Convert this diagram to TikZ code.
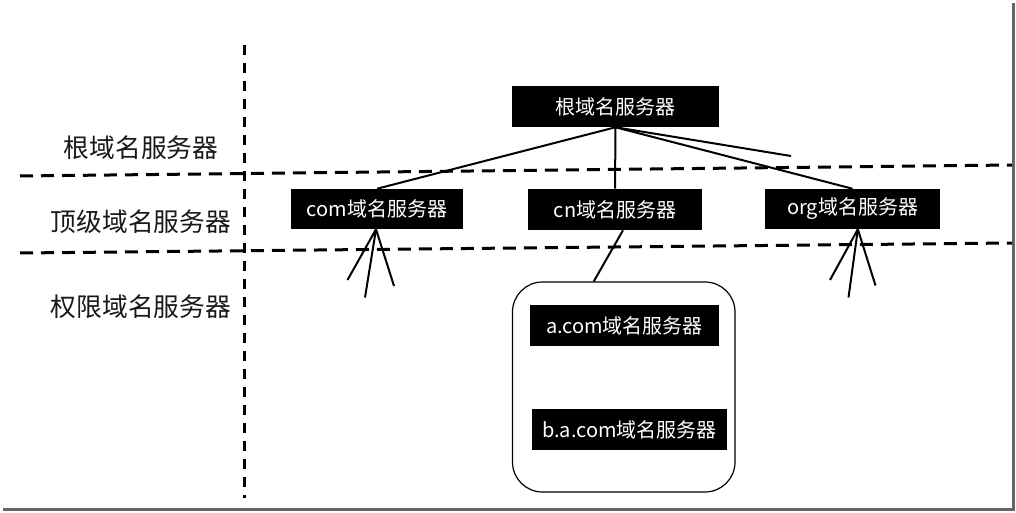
\documentclass[tikz,border=0pt]{standalone}
\usepackage{fontspec}
\setmainfont{Noto Sans CJK SC}
\begin{document}
\begin{tikzpicture}[x=0.75pt,y=-0.75pt,
  srvbox/.style={fill=black,text=white,inner sep=0pt,font=\fontsize{15}{18}\selectfont},
  tierlabel/.style={inner sep=0pt,text=black!90,font=\fontsize{19.3}{22}\selectfont},
  divider/.style={line width=2.25pt,dash pattern=on 9.75pt off 6pt},
  vdivider/.style={line width=2.25pt,dash pattern=on 7.5pt off 6pt},
  link/.style={line width=1.5pt},
  frameshadow/.style={line width=2.25pt,draw=black!60}
]
\useasboundingbox (0,0) rectangle (1016,513);
\fill[white] (0,0) rectangle (1016,513);
% screenshot frame shadow
\coordinate (fr1) at (1013.5,3);
\coordinate (fr2) at (1013.5,509.5);
\coordinate (fr3) at (3,509.5);
\draw[frameshadow] (fr1) -- (fr2) -- (fr3);

% dividers
\coordinate (h1a) at (20,176);
\coordinate (h1b) at (1012,165);
\coordinate (h2a) at (20,253);
\coordinate (h2b) at (1012,243);
\coordinate (v1a) at (244,45);
\coordinate (v1b) at (244,498);
\draw[divider] (h1a) -- (h1b);
\draw[divider] (h2a) -- (h2b);
\draw[vdivider] (v1a) -- (v1b);

% tier labels
\node[tierlabel] (l1) at (141,148) {根域名服务器};
\node[tierlabel] (l2) at (141,222) {顶级域名服务器};
\node[tierlabel] (l3) at (141,307) {权限域名服务器};

% servers
\node[srvbox,minimum width=155.25pt,minimum height=30.75pt] (root) at (615.5,106.5) {根域名服务器};
\node[srvbox,minimum width=129pt,minimum height=30pt] (com) at (377,209) {com域名服务器};
\node[srvbox,minimum width=130.5pt,minimum height=30.75pt] (cn) at (615,209.5) {cn域名服务器};
\node[srvbox,minimum width=131.25pt,minimum height=30pt] (org) at (852.5,209) {org域名服务器};

% authoritative group
\node[draw,line width=0.9pt,rounded corners=22.5pt,minimum width=166.9pt,minimum height=157.5pt,inner sep=0pt] (grp) at (623.75,387) {};
\node[srvbox,minimum width=141.75pt,minimum height=30.75pt] (acom) at (624.5,325.5) {a.com域名服务器};
\node[srvbox,minimum width=146.25pt,minimum height=30.75pt] (bacom) at (629.5,429.5) {b.a.com域名服务器};

% links from root
\coordinate (rootfree) at (791,156);
\draw[link] (root.south) -- (com.north);
\draw[link] (root.south) -- (cn.north);
\draw[link] (root.south) -- (org.north);
\draw[link] (root.south) -- (rootfree);

% cn to group
\draw[link] ([xshift=6pt]cn.south) -- ([xshift=-22.5pt]grp.north);

% fans
\coordinate (cf1) at (347.5,280);
\coordinate (cf2) at (365,297.5);
\coordinate (cf3) at (394,286);
\draw[link] ([xshift=-0.75pt]com.south) -- (cf1);
\draw[link] ([xshift=-0.75pt]com.south) -- (cf2);
\draw[link] ([xshift=-0.75pt]com.south) -- (cf3);
\coordinate (of1) at (830,280);
\coordinate (of2) at (848.5,297.5);
\coordinate (of3) at (875.5,285.5);
\draw[link] ([xshift=4pt]org.south) -- (of1);
\draw[link] ([xshift=4pt]org.south) -- (of2);
\draw[link] ([xshift=4pt]org.south) -- (of3);
\end{tikzpicture}
\end{document}
